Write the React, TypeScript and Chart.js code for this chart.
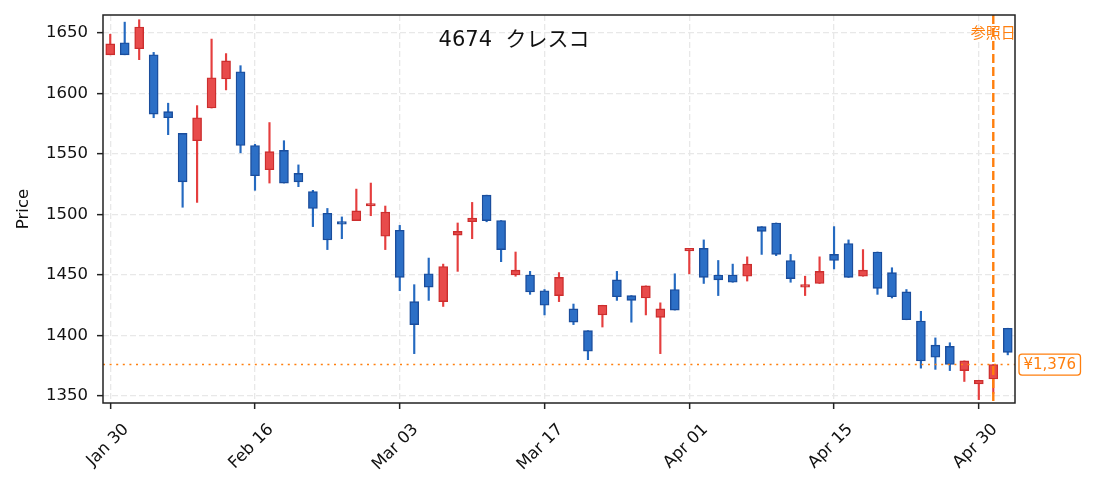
import React, { useEffect, useRef } from 'react';
import { Chart, registerables } from 'chart.js';

Chart.register(...registerables);

const dates = [
  'Jan 30', 'Feb 02', 'Feb 03', 'Feb 04', 'Feb 05', 'Feb 06', 'Feb 09', 'Feb 10', 'Feb 12', 'Feb 13',
  'Feb 16', 'Feb 17', 'Feb 18', 'Feb 19', 'Feb 20', 'Feb 24', 'Feb 25', 'Feb 26', 'Feb 27', 'Mar 02',
  'Mar 03', 'Mar 04', 'Mar 05', 'Mar 06', 'Mar 09', 'Mar 10', 'Mar 11', 'Mar 12', 'Mar 13', 'Mar 16',
  'Mar 17', 'Mar 18', 'Mar 19', 'Mar 23', 'Mar 24', 'Mar 25', 'Mar 26', 'Mar 27', 'Mar 30', 'Mar 31',
  'Apr 01', 'Apr 02', 'Apr 03', 'Apr 06', 'Apr 07', 'Apr 08', 'Apr 09', 'Apr 10', 'Apr 13', 'Apr 14',
  'Apr 15', 'Apr 16', 'Apr 17', 'Apr 20', 'Apr 21', 'Apr 22', 'Apr 23', 'Apr 24', 'Apr 27', 'Apr 28',
  'Apr 30', 'May 01', 'May 07',
];

const opens = [
  1632, 1642, 1637, 1632, 1585, 1567, 1561, 1588, 1612, 1618,
  1557, 1537, 1553, 1534, 1519, 1501, 1493, 1495, 1507, 1482,
  1487, 1428, 1451, 1428, 1483, 1494, 1516, 1495, 1450, 1450,
  1437, 1433, 1422, 1404, 1417, 1446, 1433, 1431, 1415, 1438,
  1470, 1472, 1450, 1450, 1449, 1490, 1493, 1462, 1440, 1443,
  1467, 1476, 1449, 1469, 1452, 1436, 1412, 1392, 1391, 1371,
  1360, 1364, 1406,
];

const highs = [
  1649, 1659, 1661, 1634, 1592, 1567, 1590, 1645, 1633, 1623,
  1558, 1576, 1561, 1541, 1520, 1505, 1498, 1521, 1526, 1507,
  1491, 1442, 1464, 1459, 1493, 1510, 1516, 1495, 1469, 1453,
  1438, 1452, 1426, 1404, 1425, 1453, 1433, 1441, 1427, 1451,
  1472, 1479, 1462, 1459, 1465, 1490, 1493, 1467, 1449, 1465,
  1490, 1479, 1471, 1469, 1456, 1438, 1420, 1398, 1394, 1379,
  1363, 1376, 1406,
];

const lows = [
  1632, 1632, 1628, 1580, 1566, 1506, 1510, 1588, 1603, 1551,
  1520, 1526, 1526, 1523, 1490, 1471, 1480, 1495, 1499, 1471,
  1437, 1385, 1429, 1424, 1453, 1480, 1494, 1461, 1449, 1434,
  1417, 1428, 1409, 1380, 1407, 1429, 1411, 1417, 1385, 1421,
  1451, 1443, 1433, 1444, 1445, 1467, 1466, 1444, 1433, 1443,
  1455, 1448, 1449, 1434, 1431, 1413, 1373, 1372, 1371, 1362,
  1347, 1352, 1384,
];

const closes = [
  1641, 1632, 1655, 1583, 1580, 1527, 1580, 1613, 1627, 1557,
  1532, 1552, 1526, 1527, 1505, 1479, 1492, 1503, 1508, 1502,
  1448, 1409, 1440, 1457, 1486, 1497, 1495, 1471, 1454, 1436,
  1425, 1448, 1411, 1387, 1425, 1432, 1429, 1441, 1422, 1421,
  1472, 1448, 1446, 1444, 1459, 1486, 1467, 1447, 1441, 1453,
  1462, 1448, 1454, 1439, 1432, 1413, 1379, 1382, 1376, 1379,
  1363, 1376, 1386,
];

const yTicks = [1350, 1400, 1450, 1500, 1550, 1600, 1650];
const xTickDates = ['Jan 30', 'Feb 16', 'Mar 03', 'Mar 17', 'Apr 01', 'Apr 15', 'Apr 30'];
const refDate = 'May 01';
const refPrice = 1376;
const refLabel = '参照日';
const priceLabel = '¥1,376';
const chartTitle = '4674  クレスコ';
const yTitle = 'Price';

const FONT = '"DejaVu Sans", "Noto Sans CJK JP", sans-serif';
const ORANGE = '#ff7f0e';
const UP_FILL = '#e84b4b';
const UP_EDGE = '#cc2e2e';
const UP_WICK = '#e53e3e';
const DN_FILL = '#2c6fc6';
const DN_EDGE = '#1a4d9c';
const DN_WICK = '#2469c0';

const overlayPlugin = {
  id: 'overlay',
  afterDatasetsDraw(chart: any) {
    const { ctx, chartArea, scales } = chart;
    const { left, right, top, bottom } = chartArea;
    const x = scales.x;
    const y = scales.y;
    ctx.save();

    // horizontal dotted reference price line
    const py = y.getPixelForValue(refPrice);
    ctx.strokeStyle = ORANGE;
    ctx.lineWidth = 1.6;
    ctx.setLineDash([2, 4.6]);
    ctx.beginPath();
    ctx.moveTo(left, py);
    ctx.lineTo(right, py);
    ctx.stroke();

    // vertical dashed reference date line
    const px = x.getPixelForValue(dates.indexOf(refDate));
    ctx.lineWidth = 2.4;
    ctx.setLineDash([9, 4]);
    ctx.beginPath();
    ctx.moveTo(px, top);
    ctx.lineTo(px, bottom);
    ctx.stroke();
    ctx.setLineDash([]);

    // frame
    ctx.strokeStyle = '#222';
    ctx.lineWidth = 1.5;
    ctx.strokeRect(left, top, right - left, bottom - top);

    // reference date label
    ctx.fillStyle = ORANGE;
    ctx.font = `15px ${FONT}`;
    ctx.textAlign = 'center';
    ctx.textBaseline = 'middle';
    ctx.fillText(refLabel, px, top + 19);

    // price label box
    ctx.font = `15px ${FONT}`;
    const tw = ctx.measureText(priceLabel).width;
    const bx = right + 4;
    const bw = tw + 9;
    const bh = 21;
    ctx.fillStyle = '#fff';
    ctx.strokeStyle = ORANGE;
    ctx.lineWidth = 1.3;
    ctx.beginPath();
    ctx.roundRect(bx, py - bh / 2, bw, bh, 3);
    ctx.fill();
    ctx.stroke();
    ctx.fillStyle = ORANGE;
    ctx.textAlign = 'center';
    ctx.fillText(priceLabel, bx + bw / 2, py + 1);

    // title
    ctx.fillStyle = '#111';
    ctx.font = `21px ${FONT}`;
    ctx.textAlign = 'center';
    ctx.fillText(chartTitle, 514, 41);

    ctx.restore();
  },
};

export default function App() {
  const ref = useRef<HTMLCanvasElement | null>(null);

  useEffect(() => {
    document.body.style.margin = '0';
    if (!ref.current) return;
    Chart.defaults.font.family = FONT;
    const isUp = opens.map((o, i) => closes[i] >= o);
    const chart = new Chart(ref.current, {
      type: 'bar',
      data: {
        labels: dates,
        datasets: [
          {
            label: 'body',
            data: opens.map((o, i) => [o, closes[i]]) as any,
            backgroundColor: isUp.map((u) => (u ? UP_FILL : DN_FILL)),
            borderColor: isUp.map((u) => (u ? UP_EDGE : DN_EDGE)),
            borderWidth: 1.4,
            borderSkipped: false,
            barThickness: 9,
            minBarLength: 2.5,
            grouped: false,
            order: 0,
          } as any,
          {
            label: 'wick',
            data: lows.map((l, i) => [l, highs[i]]) as any,
            backgroundColor: isUp.map((u) => (u ? UP_WICK : DN_WICK)),
            borderWidth: 0,
            barThickness: 1.5,
            grouped: false,
            order: 1,
          } as any,
        ],
      },
      options: {
        animation: false,
        responsive: false,
        layout: { padding: { left: 0, top: 15, right: 78, bottom: 0 } },
        plugins: {
          legend: { display: false },
          tooltip: { enabled: false },
        },
        scales: {
          x: {
            type: 'category',
            offset: true,
            grid: {
              offset: false,
              color: '#e8e8e8',
              lineWidth: 1.3,
              drawTicks: true,
              tickLength: 6,
              tickColor: '#222',
              tickWidth: 1.5,
            },
            border: { display: false, dash: [6, 3] },
            ticks: {
              autoSkip: false,
              maxRotation: 45,
              minRotation: 45,
              labelOffset: 16,
              padding: 11,
              color: '#111',
              font: { size: 16.5 },
              callback: (_v: any, i: number) => (xTickDates.includes(dates[i]) ? dates[i] : null),
            },
            afterFit: (s: any) => {
              s.height = 87;
              s.paddingLeft = 0;
              s.paddingRight = 0;
            },
          },
          y: {
            min: 1344.2,
            max: 1664.9,
            grid: {
              color: '#e8e8e8',
              lineWidth: 1.3,
              drawTicks: true,
              tickLength: 6,
              tickColor: '#222',
              tickWidth: 1.5,
            },
            border: { display: false, dash: [6, 3] },
            ticks: {
              padding: 9,
              color: '#111',
              font: { size: 16.5 },
              callback: (v: any) => String(v),
            },
            afterBuildTicks: (s: any) => {
              s.ticks = yTicks.map((v) => ({ value: v }));
            },
            afterFit: (s: any) => {
              s.width = 103;
              s.paddingTop = 0;
              s.paddingBottom = 0;
            },
            title: {
              display: true,
              text: yTitle,
              color: '#111',
              font: { size: 16.5 },
              padding: { top: 14, bottom: 0 },
            },
          },
        },
      },
      plugins: [overlayPlugin],
    });
    return () => chart.destroy();
  }, []);

  return (
    <div style={{ position: 'fixed', left: 0, top: 0, width: 1093, height: 490, background: '#fff' }}>
      <canvas ref={ref} width={1093} height={490} style={{ width: 1093, height: 490 }} />
    </div>
  );
}
